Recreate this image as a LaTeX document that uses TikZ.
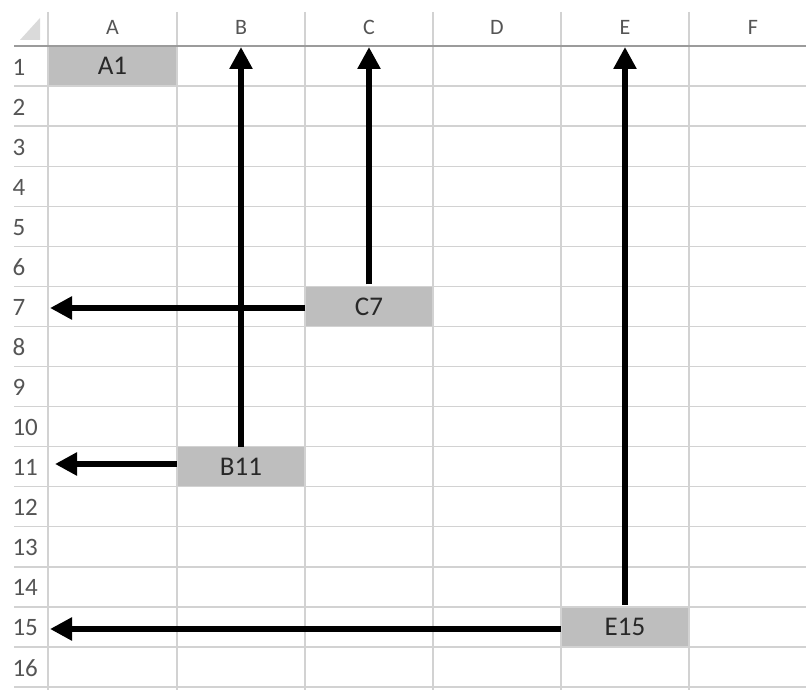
\documentclass[tikz,border=0pt]{standalone}
\usepackage{fontspec}
\setmainfont{Carlito}
\usetikzlibrary{arrows.meta}
\definecolor{gridc}{RGB}{210,210,210}
\definecolor{headline}{RGB}{155,155,155}
\definecolor{cellfill}{RGB}{190,190,190}
\definecolor{headtext}{RGB}{85,85,85}
\definecolor{celltext}{RGB}{40,40,40}
\definecolor{cornerc}{RGB}{218,218,218}
\tikzset{
  gridline/.style={draw=gridc, line width=1.3pt},
  headerline/.style={draw=headline, line width=1.8pt},
  colhead/.style={text=headtext, font=\fontsize{22}{22}\selectfont, anchor=center},
  rowhead/.style={text=headtext, font=\fontsize{25}{25}\selectfont, anchor=west},
  cellbox/.style={fill=cellfill, minimum width=128pt, minimum height=40pt, inner sep=0pt, text=celltext, font=\fontsize{27}{27}\selectfont},
  bigarrow/.style={line width=5.5pt, black, -{Triangle[length=22pt,width=22pt]}},
}
\begin{document}
\begin{tikzpicture}[x=1pt,y=-1pt]
\useasboundingbox (0,0) rectangle (806,690);
\fill[white] (0,0) rectangle (806,690);
% corner triangle
\fill[cornerc] (20,40) -- (40,40) -- (40,18) -- cycle;
% cells (filled)
\node[cellbox] (A1) at (112.5,66) {A1};
\node[cellbox] (C7) at (369,306.5) {C7};
\node[cellbox] (B11) at (241,466.8) {B11};
\node[cellbox] (E15) at (625,627.1) {E15};
% horizontal grid lines
\foreach \k in {1,...,16} {
  \draw[gridline] (14,{46+40.07*\k}) -- (806,{46+40.07*\k});
}
% vertical grid lines
\foreach \xx in {48,177,305,433,561,689} {
  \draw[gridline] (\xx,12) -- (\xx,690);
}
% header bottom line
\draw[headerline] (14,46) -- (806,46);
% column headers
\foreach \c/\xx in {A/112.5,B/241,C/369,D/497,E/625,F/753} {
  \node[colhead] (col\c) at (\xx,27) {\c};
}
% row headers
\foreach \r in {1,...,16} {
  \node[rowhead] (row\r) at (9,{47+40.07*(\r-0.5)}) {\r};
}
% arrow targets
\coordinate (tB) at (241,47);
\coordinate (tC) at (369,47);
\coordinate (tE) at (625,47);
\coordinate (t7) at (50,308);
\coordinate (t11) at (55,464);
\coordinate (t15) at (50,629);
% arrows
\draw[bigarrow] (B11.north) -- (tB);
\draw[bigarrow] (C7.north) ++(0,-2) -- (tC);
\draw[bigarrow] (E15.north) ++(0,-2) -- (tE);
\draw[bigarrow] (C7.west |- t7) -- (t7);
\draw[bigarrow] (B11.west |- t11) -- (t11);
\draw[bigarrow] (E15.west |- t15) -- (t15);
\end{tikzpicture}
\end{document}
